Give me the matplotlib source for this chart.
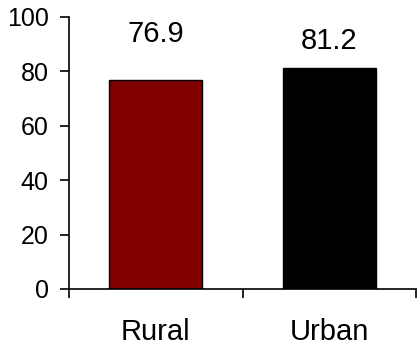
import matplotlib
matplotlib.use("Agg")
import matplotlib.pyplot as plt
from matplotlib.ticker import FixedLocator, NullFormatter

categories = ["Rural", "Urban"]
values = [76.9, 81.2]
colors = ["#800000", "#000000"]
label_offsets = [11.6, 4.9]  # vertical offset of value labels above bars (data units)
yticks = [0, 20, 40, 60, 80, 100]

plt.rcParams['font.family'] = ['Liberation Sans', 'DejaVu Sans']

fig = plt.figure(figsize=(4.17, 3.45), dpi=100)
ax = fig.add_axes([69/417, (345-289)/345, (416-69)/417, (289-17)/345])

x = list(range(len(categories)))
ax.bar(x, values, width=0.535, color=colors, edgecolor="black", linewidth=1.0, zorder=2)

for xi, v, off in zip(x, values, label_offsets):
    ax.text(xi, v + off, f"{v}", ha="center", va="bottom", fontsize=21)

ax.set_xlim(-0.5, 1.5)
ax.set_ylim(0, 100)
ax.set_yticks(yticks)
ax.tick_params(axis="y", direction="out", length=6.5, width=1.2, pad=8, labelsize=18)

ax.xaxis.set_major_locator(FixedLocator([-0.5, 0.5, 1.5]))
ax.xaxis.set_major_formatter(NullFormatter())
ax.xaxis.set_minor_locator(FixedLocator(x))
ax.set_xticklabels(categories, minor=True)
ax.tick_params(axis="x", which="major", direction="out", length=6.5, width=1.2)
ax.tick_params(axis="x", which="minor", length=0, pad=21, labelsize=21)

for s in ["top", "right"]:
    ax.spines[s].set_visible(False)
for s in ["left", "bottom"]:
    ax.spines[s].set_linewidth(1.2)

fig.savefig("out.png", dpi=100)
